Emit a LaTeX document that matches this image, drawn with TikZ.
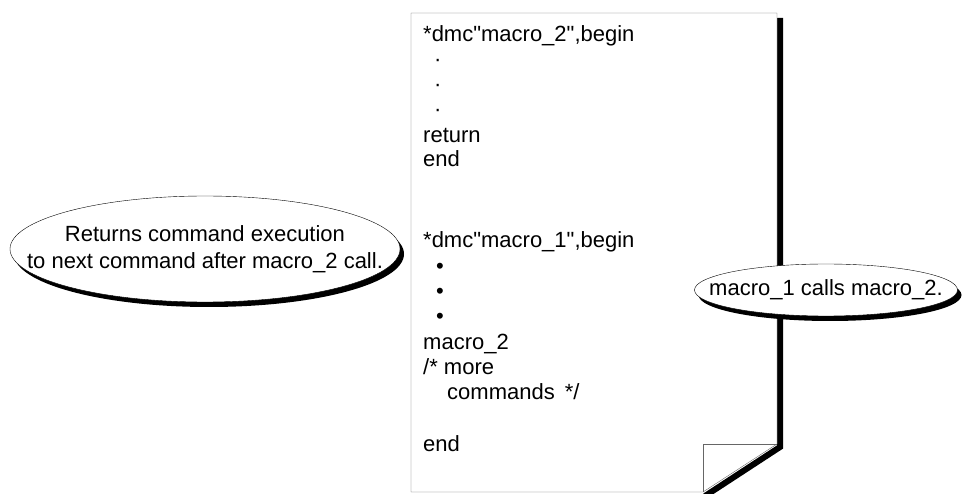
\documentclass[tikz,border=0pt]{standalone}
\usepackage{fontspec}
\setmainfont{Liberation Sans}
\newfontfamily\listingfont{Liberation Sans}
\usetikzlibrary{shapes.geometric,shadows,positioning}

\begin{document}
\begin{tikzpicture}[
        x=1pt, y=-1pt,
        code/.style={anchor=base west, inner sep=0pt, font=\listingfont\fontsize{22}{25}\selectfont},
        callout/.style={ellipse, draw, thin, fill=white, inner sep=0pt, align=center,
            font=\fontsize{22}{27}\selectfont,
            drop shadow={fill=black, opacity=1, shadow xshift=4pt, shadow yshift=-5pt}},
        sheet/.style={draw=black!60, thin},
        sheetshade/.style={line width=6pt, line join=miter}
    ]
        \useasboundingbox (0,0) rectangle (962,494);

        % listing sheet with folded corner
        \draw[sheetshade] (780,18) -- (780,447) -- (705,496);
        \draw[sheet, fill=white] (411,13) -- (777,13) -- (777,444) -- (703,492) -- (411,492) -- cycle;
        \draw[sheet] (703,492) -- (703,444) -- (777,444);

        % macro_2 definition
        \foreach \y/\txt [count=\i] in {42/{*dmc"macro\_2",begin}, 67/{\hspace{11pt}·}, 92/{\hspace{11pt}·},
                117/{\hspace{11pt}·}, 143/{return}, 167/{end}}
            \node[code] (deftwo\i) at (423,\y) {\txt};

        % macro_1 definition
        \foreach \y/\txt [count=\i] in {248/{*dmc"macro\_1",begin}, 274/{\hspace{13pt}•}, 299/{\hspace{13pt}•},
                324/{\hspace{13pt}•}, 350/{macro\_2}, 375/{/* more}, 400/{\hspace{24pt}commands\hspace{10pt}*/},
                451/{end}}
            \node[code] (defone\i) at (423,\y) {\txt};

        % notes
        \node[callout, minimum width=390pt, minimum height=106pt] (retnote) at (205,249)
            {\makebox[0pt]{Returns command execution}\\\makebox[0pt]{to next command after macro\_2 call.}};
        \node[callout, minimum width=263pt, minimum height=52pt] (callnote) at (826,290)
            {\makebox[0pt]{macro\_1 calls macro\_2.}};
    \end{tikzpicture}
\end{document}
